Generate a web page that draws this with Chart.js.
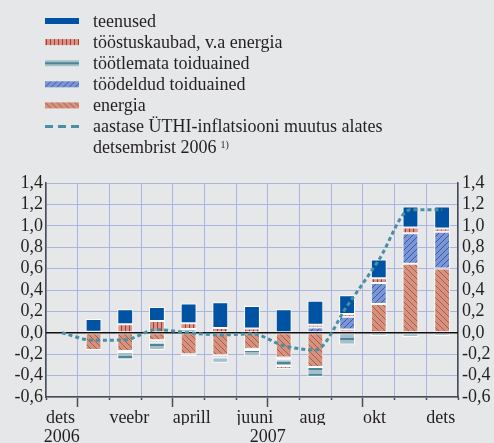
<!DOCTYPE html>
<html>
<head>
<meta charset="utf-8">
<script src="https://cdn.jsdelivr.net/npm/chart.js@4.4.0/dist/chart.umd.min.js"></script>
<style>
  html, body { margin: 0; padding: 0; background: #e6e7e9; }
  #wrap { width: 494px; height: 443px; }
</style>
</head>
<body>
<div id="wrap"><canvas id="cpiChart" width="494" height="443"></canvas></div>
<script>
// months from dets 2006 to dets 2007
const months = ['dets', 'jaan', 'veebr', 'märts', 'aprill', 'mai', 'juuni', 'juuli', 'aug', 'sept', 'okt', 'nov', 'dets'];
const monthYears = ['2006', '2007', '2007', '2007', '2007', '2007', '2007', '2007', '2007', '2007', '2007', '2007', '2007'];
const years = ['2006', '2007'];

// contributions, percentage points
const teenused    = [null, 0.12, 0.14, 0.13, 0.185, 0.24, 0.21, 0.22, 0.225, 0.175, 0.175, 0.195, 0.205];
const toostus     = [null, 0.01, 0.08, 0.11, 0.055, 0.045, 0.04, -0.025, 0.025, 0.025, 0.045, 0.055, 0.03];
const tootlemata  = [null, 0, -0.07, -0.07, 0.035, -0.05, -0.06, -0.06, -0.09, -0.11, -0.03, -0.04, -0.03];
const toodeldud   = [null, 0, -0.01, -0.02, -0.02, -0.02, -0.01, -0.02, 0.05, 0.12, 0.195, 0.285, 0.345];
const energia     = [null, -0.16, -0.17, -0.07, -0.2, -0.21, -0.15, -0.23, -0.32, 0.03, 0.27, 0.645, 0.6];
const inflMuutus  = [0, -0.07, -0.065, 0.03, 0.0, -0.02, -0.01, -0.12, -0.16, 0.25, 0.68, 1.15, 1.15];

const FONT = '"Liberation Serif", "Times New Roman", serif';
const textColor = '#231f20';
const axisColor = '#4d4d4f';
const gridColor = '#a9b5de';
const bgColor = '#e6e7e9';

function stripes(bg, fg, kind) {
  const size = kind === 'vertical' ? 4 : 6;
  const c = document.createElement('canvas');
  c.width = size; c.height = size;
  const g = c.getContext('2d');
  g.fillStyle = bg;
  g.fillRect(0, 0, size, size);
  g.fillStyle = fg;
  if (kind === 'vertical') {
    g.fillRect(1, 0, 1, size);
  } else if (kind === 'horizontal') {
    g.fillRect(0, 2, size, 2);
  } else {
    for (let i = 0; i < size; i++) {
      g.fillRect(i, kind === 'down' ? i : size - 1 - i, 1, 1);
    }
  }
  return g.createPattern(c, 'repeat');
}

const fills = {
  teenused: '#0052a2',
  toostus: stripes('#d6958a', '#b0352c', 'vertical'),
  tootlemata: stripes('#a5c0c9', '#4b8798', 'horizontal'),
  toodeldud: stripes('#7c95d3', '#3659b3', 'up'),
  energia: stripes('#d4937f', '#b3574a', 'down')
};

const bar = (label, data, fill) => ({
  type: 'bar', label, data, backgroundColor: fill,
  borderColor: '#ffffff', borderWidth: 1, borderSkipped: false,
  barPercentage: 0.5, categoryPercentage: 1, order: 1
});

// stacking order from zero outwards
const datasets = [
  bar('energia', energia, fills.energia),
  bar('töödeldud toiduained', toodeldud, fills.toodeldud),
  bar('töötlemata toiduained', tootlemata, fills.tootlemata),
  bar('tööstuskaubad, v.a energia', toostus, fills.toostus),
  bar('teenused', teenused, fills.teenused),
  {
    type: 'line', label: 'aastase ÜTHI-inflatsiooni muutus alates detsembrist 2006',
    data: inflMuutus, stack: 'line', order: 0,
    borderColor: '#4a8ea1', borderWidth: 3, borderDash: [4, 3],
    pointRadius: 0, fill: false, cubicInterpolationMode: 'monotone'
  }
];

const quarterStarts = months.map((m, i) => i).filter(i => ['jaan', 'aprill', 'juuli', 'okt'].includes(months[i]));
const yearCentres = years.map(y => {
  const first = monthYears.indexOf(y);
  const last = monthYears.lastIndexOf(y);
  return (first + last + 1) / 2;
});
const fmt = v => v.toFixed(1).replace('.', ',');

const pageBg = {
  id: 'pageBg',
  beforeDraw(chart) {
    const ctx = chart.ctx;
    ctx.save();
    ctx.fillStyle = bgColor;
    ctx.fillRect(0, 0, chart.width, chart.height);
    ctx.restore();
  }
};

const zeroLine = {
  id: 'zeroLine',
  beforeDatasetDraw(chart, args) {
    if (args.meta.type !== 'line') return;
    const { ctx, chartArea } = chart;
    const y = chart.scales.y.getPixelForValue(0);
    ctx.save();
    ctx.strokeStyle = '#111111';
    ctx.lineWidth = 1.5;
    ctx.beginPath();
    ctx.moveTo(chartArea.left, y);
    ctx.lineTo(chartArea.right, y);
    ctx.stroke();
    ctx.restore();
  }
};

// stacked list legend above the plot
const listLegend = {
  id: 'listLegend',
  afterDraw(chart) {
    const ctx = chart.ctx;
    const ds = chart.data.datasets;
    const rows = [ds[4], ds[3], ds[2], ds[1], ds[0], ds[5]];
    const x0 = 45, w = 34, tx = 93, top = 21, step = 21.1;
    ctx.save();
    ctx.font = '18px ' + FONT;
    ctx.fillStyle = textColor;
    ctx.textBaseline = 'alphabetic';
    rows.forEach((d, i) => {
      const cy = top + i * step;
      if (d.type === 'line') {
        ctx.save();
        ctx.strokeStyle = d.borderColor;
        ctx.lineWidth = 3;
        ctx.setLineDash([8, 5]);
        ctx.beginPath();
        ctx.moveTo(x0, cy);
        ctx.lineTo(x0 + w, cy);
        ctx.stroke();
        ctx.restore();
        ctx.fillText('aastase ÜTHI-inflatsiooni muutus alates', tx, cy + 5.5);
        const second = 'detsembrist 2006';
        ctx.fillText(second, tx, cy + 5.5 + 21);
        const sw = ctx.measureText(second).width;
        ctx.font = '10px ' + FONT;
        ctx.fillText('1)', tx + sw + 4, cy + 5.5 + 16);
        ctx.font = '18px ' + FONT;
      } else {
        ctx.save();
        ctx.translate(x0, cy - 3);
        ctx.fillStyle = d.backgroundColor;
        ctx.fillRect(0, 0, w, 6);
        ctx.restore();
        ctx.fillText(d.label, tx, cy + 5.5);
      }
    });
    ctx.restore();
  }
};

const tickFont = { family: FONT, size: 18 };

new Chart(document.getElementById('cpiChart'), {
  data: { labels: months, datasets },
  options: {
    responsive: false,
    animation: false,
    devicePixelRatio: 1,
    layout: { padding: { top: 183, left: 0, right: 0, bottom: 0 } },
    plugins: { legend: { display: false }, tooltip: { enabled: false } },
    scales: {
      x: {
        type: 'category', stacked: true, offset: true, weight: 0,
        grid: { offset: true, color: gridColor, lineWidth: 1, tickLength: 3, tickColor: axisColor, tickWidth: 1.5 },
        ticks: { display: false },
        border: { color: axisColor, width: 1.5 },
        afterFit: s => { s.height = 3; }
      },
      xt: {
        type: 'linear', position: 'bottom', min: 0, max: months.length, weight: 1,
        afterBuildTicks: s => { s.ticks = months.map((m, i) => ({ value: i })); },
        ticks: {
          autoSkip: false, maxRotation: 0, align: 'start', padding: 0,
          font: tickFont, color: textColor,
          callback: v => (v % 2 === 0 ? months[v] : '')
        },
        grid: {
          drawOnChartArea: false, tickLength: 7, tickWidth: 1.5,
          tickColor: c => (quarterStarts.includes(c.tick && c.tick.value) ? axisColor : 'rgba(0,0,0,0)')
        },
        border: { display: false },
        afterFit: s => { s.height = 25; }
      },
      yr: {
        type: 'linear', position: 'bottom', min: 0, max: months.length, weight: 2,
        afterBuildTicks: s => { s.ticks = yearCentres.map(v => ({ value: v })); },
        ticks: {
          autoSkip: false, maxRotation: 0, padding: 1,
          font: tickFont, color: textColor,
          callback: (v, i) => years[i]
        },
        grid: { display: false, drawTicks: false },
        border: { display: false },
        afterFit: s => { s.height = 18; }
      },
      y: {
        stacked: true, position: 'left', min: -0.6, max: 1.4,
        ticks: { stepSize: 0.2, autoSkip: false, padding: 3, font: tickFont, color: textColor, callback: fmt },
        grid: { color: gridColor, lineWidth: 1, drawTicks: false },
        border: { color: axisColor, width: 1.5 },
        afterFit: s => { s.width = 46; }
      },
      y2: {
        position: 'right', min: -0.6, max: 1.4,
        ticks: { stepSize: 0.2, autoSkip: false, padding: 4, font: tickFont, color: textColor, callback: fmt },
        grid: { drawOnChartArea: false, drawTicks: false },
        border: { color: axisColor, width: 1.5 },
        afterFit: s => { s.width = 36; }
      }
    }
  },
  plugins: [pageBg, zeroLine, listLegend]
});
</script>
</body>
</html>
